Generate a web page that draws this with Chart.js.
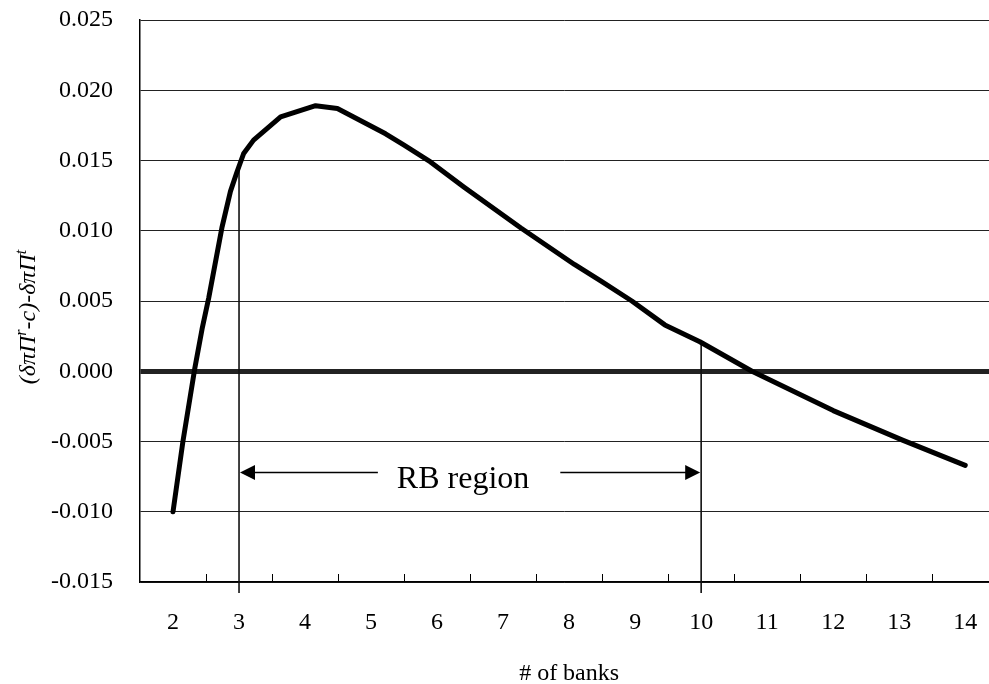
<!DOCTYPE html>
<html>
<head>
<meta charset="utf-8">
<script src="https://cdn.jsdelivr.net/npm/chart.js@4"></script>
<style>
html,body{margin:0;padding:0;background:#fff;overflow:hidden}
#wrap{width:989px;height:684px;position:relative}
</style>
</head>
<body>
<div id="wrap"><canvas id="bankChart"></canvas></div>
<script>
// curve: number of banks vs (δπΠr-c)-δπΠt
const banks = [2, 2.15, 2.33, 2.44, 2.54, 2.74, 2.87, 2.97, 3.07, 3.22, 3.63, 4.16, 4.49, 5.22, 5.5, 5.9, 6.41, 7.27, 8.08, 8.49, 8.95, 9.45, 9.98, 10.77, 12, 13.05, 14];
const gap   = [-0.0100, -0.0050, 0.0002, 0.0030, 0.0052, 0.0102, 0.0128, 0.0142, 0.0155, 0.01645, 0.0181, 0.0189, 0.0187, 0.0169, 0.0161, 0.0149, 0.0131, 0.0102, 0.0076, 0.0064, 0.0050, 0.0033, 0.0021, 0.0000, -0.0028, -0.0049, -0.0067];

const xTicks = [2, 3, 4, 5, 6, 7, 8, 9, 10, 11, 12, 13, 14];
const yTicks = [-0.015, -0.010, -0.005, 0, 0.005, 0.010, 0.015, 0.020, 0.025];

const rbRegion = [3, 10];
const rbArrowLevel = -0.0072;
const rbLabel = "RB region";
const xTitle = "# of banks";
const yTitleParts = [["(δπΠ", false], ["r", true], ["-c)-δπΠ", false], ["t", true]];

const SERIF = "'Liberation Serif', 'Times New Roman', serif";
Chart.defaults.font.family = SERIF;
Chart.defaults.color = "#000";

// curve value at x, linear between the read points
function valueAt(x){
  for (let i = 1; i < banks.length; i++){
    if (x <= banks[i]){
      const t = (x - banks[i-1]) / (banks[i] - banks[i-1]);
      return gap[i-1] + t * (gap[i] - gap[i-1]);
    }
  }
  return gap[gap.length - 1];
}

function arrowHead(ctx, tipX, tipY, dir){
  ctx.beginPath();
  ctx.moveTo(tipX, tipY);
  ctx.lineTo(tipX - dir*15, tipY - 7.5);
  ctx.lineTo(tipX - dir*15, tipY + 7.5);
  ctx.closePath();
  ctx.fill();
}

const annotations = {
  id: "annotations",
  beforeDatasetsDraw(chart){
    const { ctx, chartArea, scales:{ x, y } } = chart;
    ctx.save();
    // short ticks between categories, pointing inward
    ctx.strokeStyle = "#000";
    ctx.lineWidth = 1;
    xTicks.forEach(v => {
      const px = Math.round(x.getPixelForValue(v + 0.5)) + 0.5;
      if (px > chartArea.right) return;
      ctx.beginPath();
      ctx.moveTo(px, chartArea.bottom);
      ctx.lineTo(px, chartArea.bottom - 8);
      ctx.stroke();
    });
    // RB region boundaries
    ctx.strokeStyle = "#111";
    ctx.lineWidth = 1.6;
    rbRegion.forEach(v => {
      const px = x.getPixelForValue(v);
      ctx.beginPath();
      ctx.moveTo(px, y.getPixelForValue(valueAt(v)));
      ctx.lineTo(px, chartArea.bottom + 11);
      ctx.stroke();
    });
    ctx.restore();
  },
  afterDraw(chart){
    const { ctx, scales:{ x, y } } = chart;
    ctx.save();
    ctx.fillStyle = "#000";
    ctx.strokeStyle = "#000";

    // RB region arrows and label
    const x0 = x.getPixelForValue(rbRegion[0]);
    const x1 = x.getPixelForValue(rbRegion[1]);
    const ay = y.getPixelForValue(rbArrowLevel);
    ctx.font = "32px " + SERIF;
    const tw = ctx.measureText(rbLabel).width;
    const cx = (x0 + x1) / 2 - 7;
    const tl = cx - tw / 2, tr = cx + tw / 2;
    ctx.textAlign = "left";
    ctx.textBaseline = "alphabetic";
    ctx.fillText(rbLabel, tl, ay + 16);
    ctx.lineWidth = 1.5;
    ctx.beginPath();
    ctx.moveTo(x0 + 10, ay); ctx.lineTo(tl - 19, ay);
    ctx.moveTo(tr + 31, ay); ctx.lineTo(x1 - 10, ay);
    ctx.stroke();
    arrowHead(ctx, x0 + 1, ay, -1);
    arrowHead(ctx, x1 - 1, ay, 1);

    // x title
    ctx.font = "24px " + SERIF;
    ctx.textAlign = "center";
    ctx.textBaseline = "middle";
    ctx.fillText(xTitle, x.getPixelForValue((xTicks[0] + xTicks[xTicks.length-1]) / 2), chart.height - 10);

    // y title, rotated, with superscripts
    const big = "italic 24px " + SERIF, small = "italic 16px " + SERIF;
    let total = 0;
    yTitleParts.forEach(([t, sup]) => { ctx.font = sup ? small : big; total += ctx.measureText(t).width; });
    ctx.translate(27, 317);
    ctx.rotate(-Math.PI / 2);
    ctx.textAlign = "left";
    ctx.textBaseline = "alphabetic";
    let pos = -total / 2;
    yTitleParts.forEach(([t, sup]) => {
      ctx.font = sup ? small : big;
      ctx.fillText(t, pos, sup ? -1 : 8);
      pos += ctx.measureText(t).width;
    });
    ctx.restore();
  }
};

new Chart(document.getElementById("bankChart"), {
  type: "line",
  data: {
    datasets: [{
      data: banks.map((b, i) => ({ x: b, y: gap[i] })),
      borderColor: "#000",
      borderWidth: 5,
      pointRadius: 0,
      tension: 0,
      borderJoinStyle: "round",
      borderCapStyle: "round",
      fill: false
    }]
  },
  options: {
    responsive: true,
    maintainAspectRatio: false,
    animation: false,
    layout: { padding: { top: 20, left: 0, right: 0, bottom: 0 } },
    plugins: { legend: { display: false }, tooltip: { enabled: false } },
    scales: {
      x: {
        type: "linear",
        min: 1.5,
        max: 14.36,
        afterBuildTicks: s => { s.ticks = xTicks.map(v => ({ value: v })); },
        afterFit: s => { s.height = 102; s.paddingLeft = 0; s.paddingRight = 0; },
        ticks: { font: { size: 24 }, padding: 26, autoSkip: false, maxRotation: 0, callback: v => String(v) },
        grid: { display: false, drawTicks: false },
        border: { display: true, color: "#000", width: 1.5 }
      },
      y: {
        min: -0.015,
        max: 0.025,
        afterBuildTicks: s => { s.ticks = yTicks.map(v => ({ value: v })); },
        afterFit: s => { s.width = 140; s.paddingTop = 0; s.paddingBottom = 0; },
        ticks: { font: { size: 24 }, padding: 27, callback: v => v.toFixed(3) },
        grid: {
          color: "#222",
          lineWidth: c => (c.tick && c.tick.value === 0) ? 5 : 1,
          drawTicks: false
        },
        border: { color: "#000", width: 1.5 }
      }
    }
  },
  plugins: [annotations]
});
</script>
</body>
</html>
